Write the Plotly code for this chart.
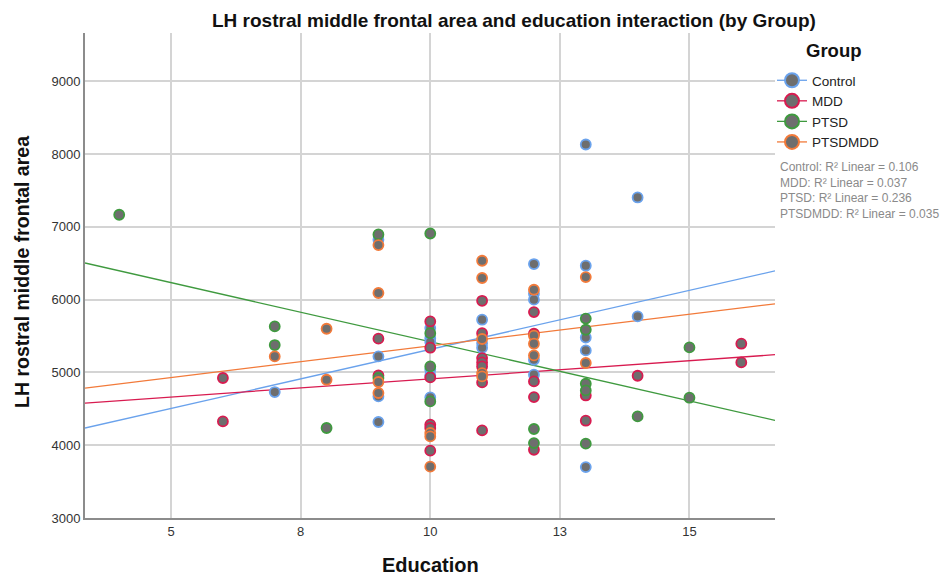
import numpy as np
import plotly.graph_objects as go

# Years of education and LH rostral middle frontal area, per group
control_edu = [7, 9, 9, 9, 9, 10, 10, 10, 10, 10, 10, 11, 11, 11,
               12, 12, 12, 12, 12, 13, 13, 13, 13, 13, 14, 14]
control_area = [4731, 6824, 5220, 4671, 4319, 5610, 5470, 5420, 5037, 4960, 4657, 5725, 5400, 5340,
                6490, 6082, 6000, 5175, 4969, 8133, 6467, 5480, 5303, 3700, 7405, 5770]

mdd_edu = [6, 6, 9, 9, 10, 10, 10, 10, 10, 10, 11, 11, 11, 11, 11, 11, 11,
           12, 12, 12, 12, 12, 13, 13, 14, 16, 16]
mdd_area = [4924, 4327, 5464, 4959, 5701, 5340, 4932, 4282, 4237, 3925, 5985, 5540, 5198, 5138, 5083, 4863, 4204,
            5830, 5532, 4877, 4662, 3938, 4684, 4337, 4955, 5395, 5138]

ptsd_edu = [4, 7, 7, 8, 9, 9, 10, 10, 10, 10, 12, 12, 13, 13, 13, 13, 13, 14, 15, 15]
ptsd_area = [7167, 5633, 5377, 4237, 6897, 4923, 6910, 5540, 5083, 4602, 4223, 4030,
             5740, 5587, 4845, 4753, 4021, 4396, 5344, 4653]

ptsdmdd_edu = [7, 8, 8, 9, 9, 9, 9, 10, 10, 10, 11, 11, 11, 11, 11, 12, 12, 12, 12, 13, 13]
ptsdmdd_area = [5220, 5601, 4900, 6751, 6092, 4869, 4718, 4168, 4121, 3705, 6535, 6298, 5460, 4992, 4946,
                6137, 5505, 5395, 5234, 6311, 5130]

groups = ["Control", "MDD", "PTSD", "PTSDMDD"]
r2_labels = ["0.106", "0.037", "0.236", "0.035"]
# Linear fit lines (area = intercept + slope * education) for each group
fit_intercepts = [3695, 4413, 7047, 4495]
fit_slopes = [162.2, 49.9, -162.5, 87.0]
colors = ["#6aa2ec", "#d81b50", "#3f9a3f", "#f27a3a"]

x_ticks = [5, 7.5, 10, 12.5, 15]
x_tick_text = ["5", "8", "10", "13", "15"]
y_ticks = [3000, 4000, 5000, 6000, 7000, 8000, 9000]

x_range = [3.34, 16.65]
y_range = [3000, 9665]

series = [
    (control_edu, control_area),
    (mdd_edu, mdd_area),
    (ptsd_edu, ptsd_area),
    (ptsdmdd_edu, ptsdmdd_area),
]

fig = go.Figure()
marker_fill = "#6e6e6e"

# fit lines across the full axis range
for color, b0, b1 in zip(colors, fit_intercepts, fit_slopes):
    lx = np.array(x_range)
    fig.add_trace(go.Scatter(
        x=lx, y=b0 + b1 * lx, mode="lines",
        line=dict(color=color, width=1.3), showlegend=False, hoverinfo="skip"))

# scatter points
for name, color, (xs, ys) in zip(groups, colors, series):
    fig.add_trace(go.Scatter(
        x=xs, y=ys, mode="markers", name=name, showlegend=False,
        marker=dict(size=10, color=marker_fill, line=dict(color=color, width=1.8))))

# legend entries
for name, color in zip(groups, colors):
    fig.add_trace(go.Scatter(
        x=[None], y=[None], mode="lines+markers", name=name,
        line=dict(color=color, width=1.3),
        marker=dict(size=14, color=marker_fill, line=dict(color=color, width=2))))

r2_text = "<br>".join(f"{g}: R² Linear = {r}" for g, r in zip(groups, r2_labels))

L, R, T, B = 85, 775, 33, 518
W = R - L
H = B - T


def px(x):
    return (x - L) / W


def py(y):
    return (B - y) / H


fig.update_layout(
    width=950, height=575,
    margin=dict(l=L, r=950 - R, t=T, b=575 - B, autoexpand=False),
    paper_bgcolor="white", plot_bgcolor="white",
    font=dict(family="Liberation Sans, Arial, sans-serif", color="#222"),
    showlegend=True,
    legend=dict(
        xref="paper", yref="paper", x=px(772), y=py(65),
        xanchor="left", yanchor="top",
        font=dict(size=13.5, color="#222"), tracegroupgap=0, itemwidth=30,
        bgcolor="rgba(0,0,0,0)"),
    annotations=[
        dict(text="<b>LH rostral middle frontal area and education interaction (by Group)</b>",
             xref="paper", yref="paper", x=px(514), y=py(20),
             xanchor="center", yanchor="middle", showarrow=False,
             font=dict(size=19, color="#111")),
        dict(text="<b>Group</b>", xref="paper", yref="paper",
             x=px(834), y=py(51), xanchor="center", yanchor="middle",
             showarrow=False, font=dict(size=18.5, color="#111")),
        dict(text=r2_text, xref="paper", yref="paper",
             x=px(778), y=py(158), xanchor="left", yanchor="top",
             align="left", showarrow=False, font=dict(size=12, color="#8a8a8a")),
        dict(text="<b>Education</b>", xref="paper", yref="paper",
             x=px(430), y=py(565), xanchor="center", yanchor="middle",
             showarrow=False, font=dict(size=20, color="#111")),
        dict(text="<b>LH rostral middle frontal area</b>", xref="paper", yref="paper",
             x=px(22), y=py(272), xanchor="center", yanchor="middle",
             textangle=-90, showarrow=False, font=dict(size=19.5, color="#111")),
    ],
)

fig.update_xaxes(
    range=x_range, tickvals=x_ticks, ticktext=x_tick_text,
    showgrid=True, gridcolor="#d4d4d4", gridwidth=1.5,
    showline=True, linecolor="#8c8c8c", linewidth=2,
    ticks="", tickfont=dict(size=13, color="#333"), zeroline=False)
fig.update_yaxes(
    range=y_range, tickvals=y_ticks,
    showgrid=True, gridcolor="#d4d4d4", gridwidth=1.5,
    showline=True, linecolor="#8c8c8c", linewidth=2,
    ticks="", tickfont=dict(size=13, color="#333"), zeroline=False)

fig.write_html("out.html")
